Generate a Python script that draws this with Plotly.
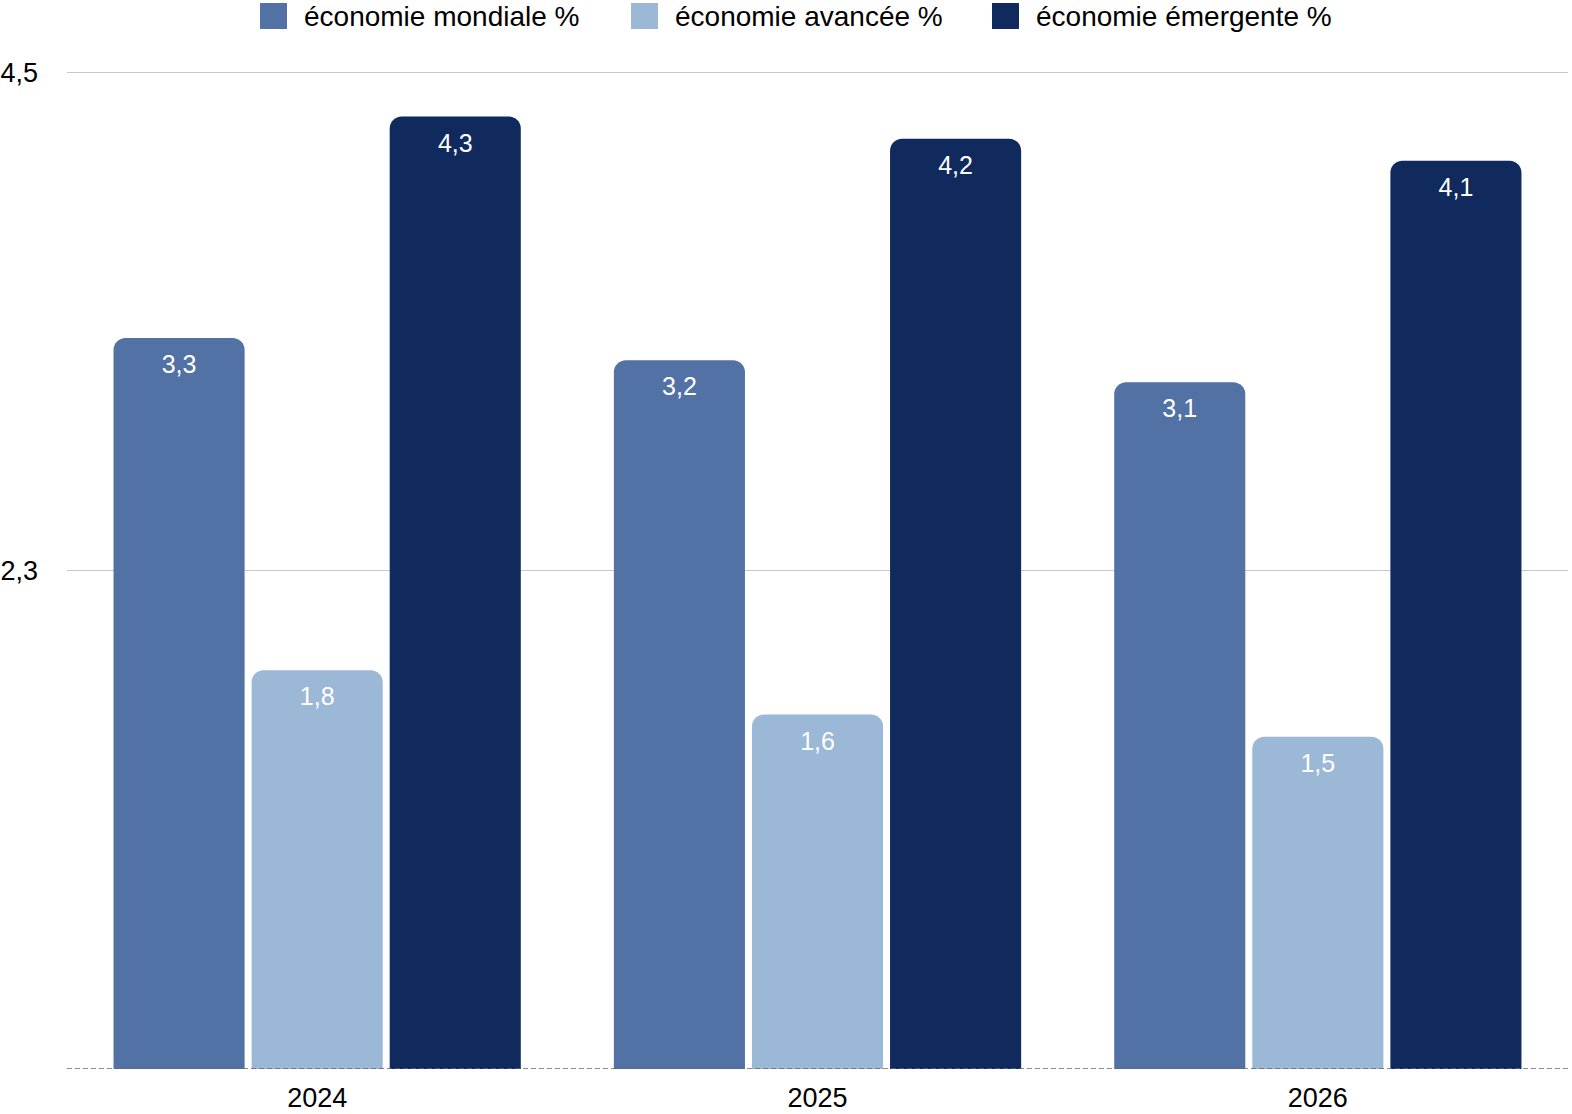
import plotly.graph_objects as go

years = ["2024", "2025", "2026"]
mondiale = [3.3, 3.2, 3.1]
avancee = [1.8, 1.6, 1.5]
emergente = [4.3, 4.2, 4.1]
series_names = ["économie mondiale %", "économie avancée %", "économie émergente %"]
colors = ["#5272A6", "#9BB8D7", "#102A5E"]
tick_vals = [2.25, 4.5]
tick_text = ["2,3", "4,5"]

FONT = "Liberation Sans, Arial, Helvetica, sans-serif"
W, H = 1572, 1114
ML, MR, MT, MB = 67, 4, 70, 45

fig = go.Figure()
for name, vals, col in zip(series_names, [mondiale, avancee, emergente], colors):
    fig.add_trace(go.Bar(
        x=years, y=vals, name=name, marker_color=col, marker_line_width=0,
        text=[f"{v:.1f}".replace(".", ",") for v in vals],
        textposition="inside", insidetextanchor="end", textangle=0,
        constraintext="none",
        textfont=dict(color="white", size=25, family=FONT),
        showlegend=False,
    ))

# manual legend (large square swatches)
pw = W - ML - MR
ph = H - MT - MB
def px_to_paper_x(px):
    return (px - ML) / pw
def py_to_paper_y(py):
    return (H - MB - py) / ph

sq_x = [260, 631, 992]
for sx, name, col in zip(sq_x, series_names, colors):
    fig.add_shape(type="rect", xref="paper", yref="paper",
                  x0=px_to_paper_x(sx), x1=px_to_paper_x(sx + 27),
                  y0=py_to_paper_y(29), y1=py_to_paper_y(3),
                  fillcolor=col, line_width=0)
    fig.add_annotation(xref="paper", yref="paper",
                       x=px_to_paper_x(sx + 42), y=py_to_paper_y(17),
                       xanchor="left", yanchor="middle", showarrow=False,
                       text=name, font=dict(size=28, color="black", family=FONT))

# dashed baseline
fig.add_shape(type="line", xref="paper", yref="y", x0=0, x1=1, y0=0, y1=0,
              line=dict(color="#666666", width=1.5, dash="5px,3px"), layer="above")

fig.update_layout(
    width=W, height=H,
    margin=dict(l=ML, r=MR, t=MT, b=MB, autoexpand=False),
    paper_bgcolor="white", plot_bgcolor="white",
    barmode="group", bargap=0.172, bargroupgap=0.0507,
    barcornerradius=12,
    font=dict(family=FONT, size=26, color="black"),
    uniformtext=dict(mode=False),
    xaxis=dict(showgrid=False, showline=False, ticks="", automargin=False,
               tickfont=dict(size=27, color="black"), ticklabelstandoff=10),
    yaxis=dict(range=[0, 4.51], tickvals=tick_vals, ticktext=tick_text,
               showgrid=True, gridcolor="#C8C8C8", gridwidth=1, automargin=False,
               zeroline=False, showline=False, ticks="",
               tickfont=dict(size=27, color="black"), ticklabelstandoff=28),
)

fig.write_html("out.html")
